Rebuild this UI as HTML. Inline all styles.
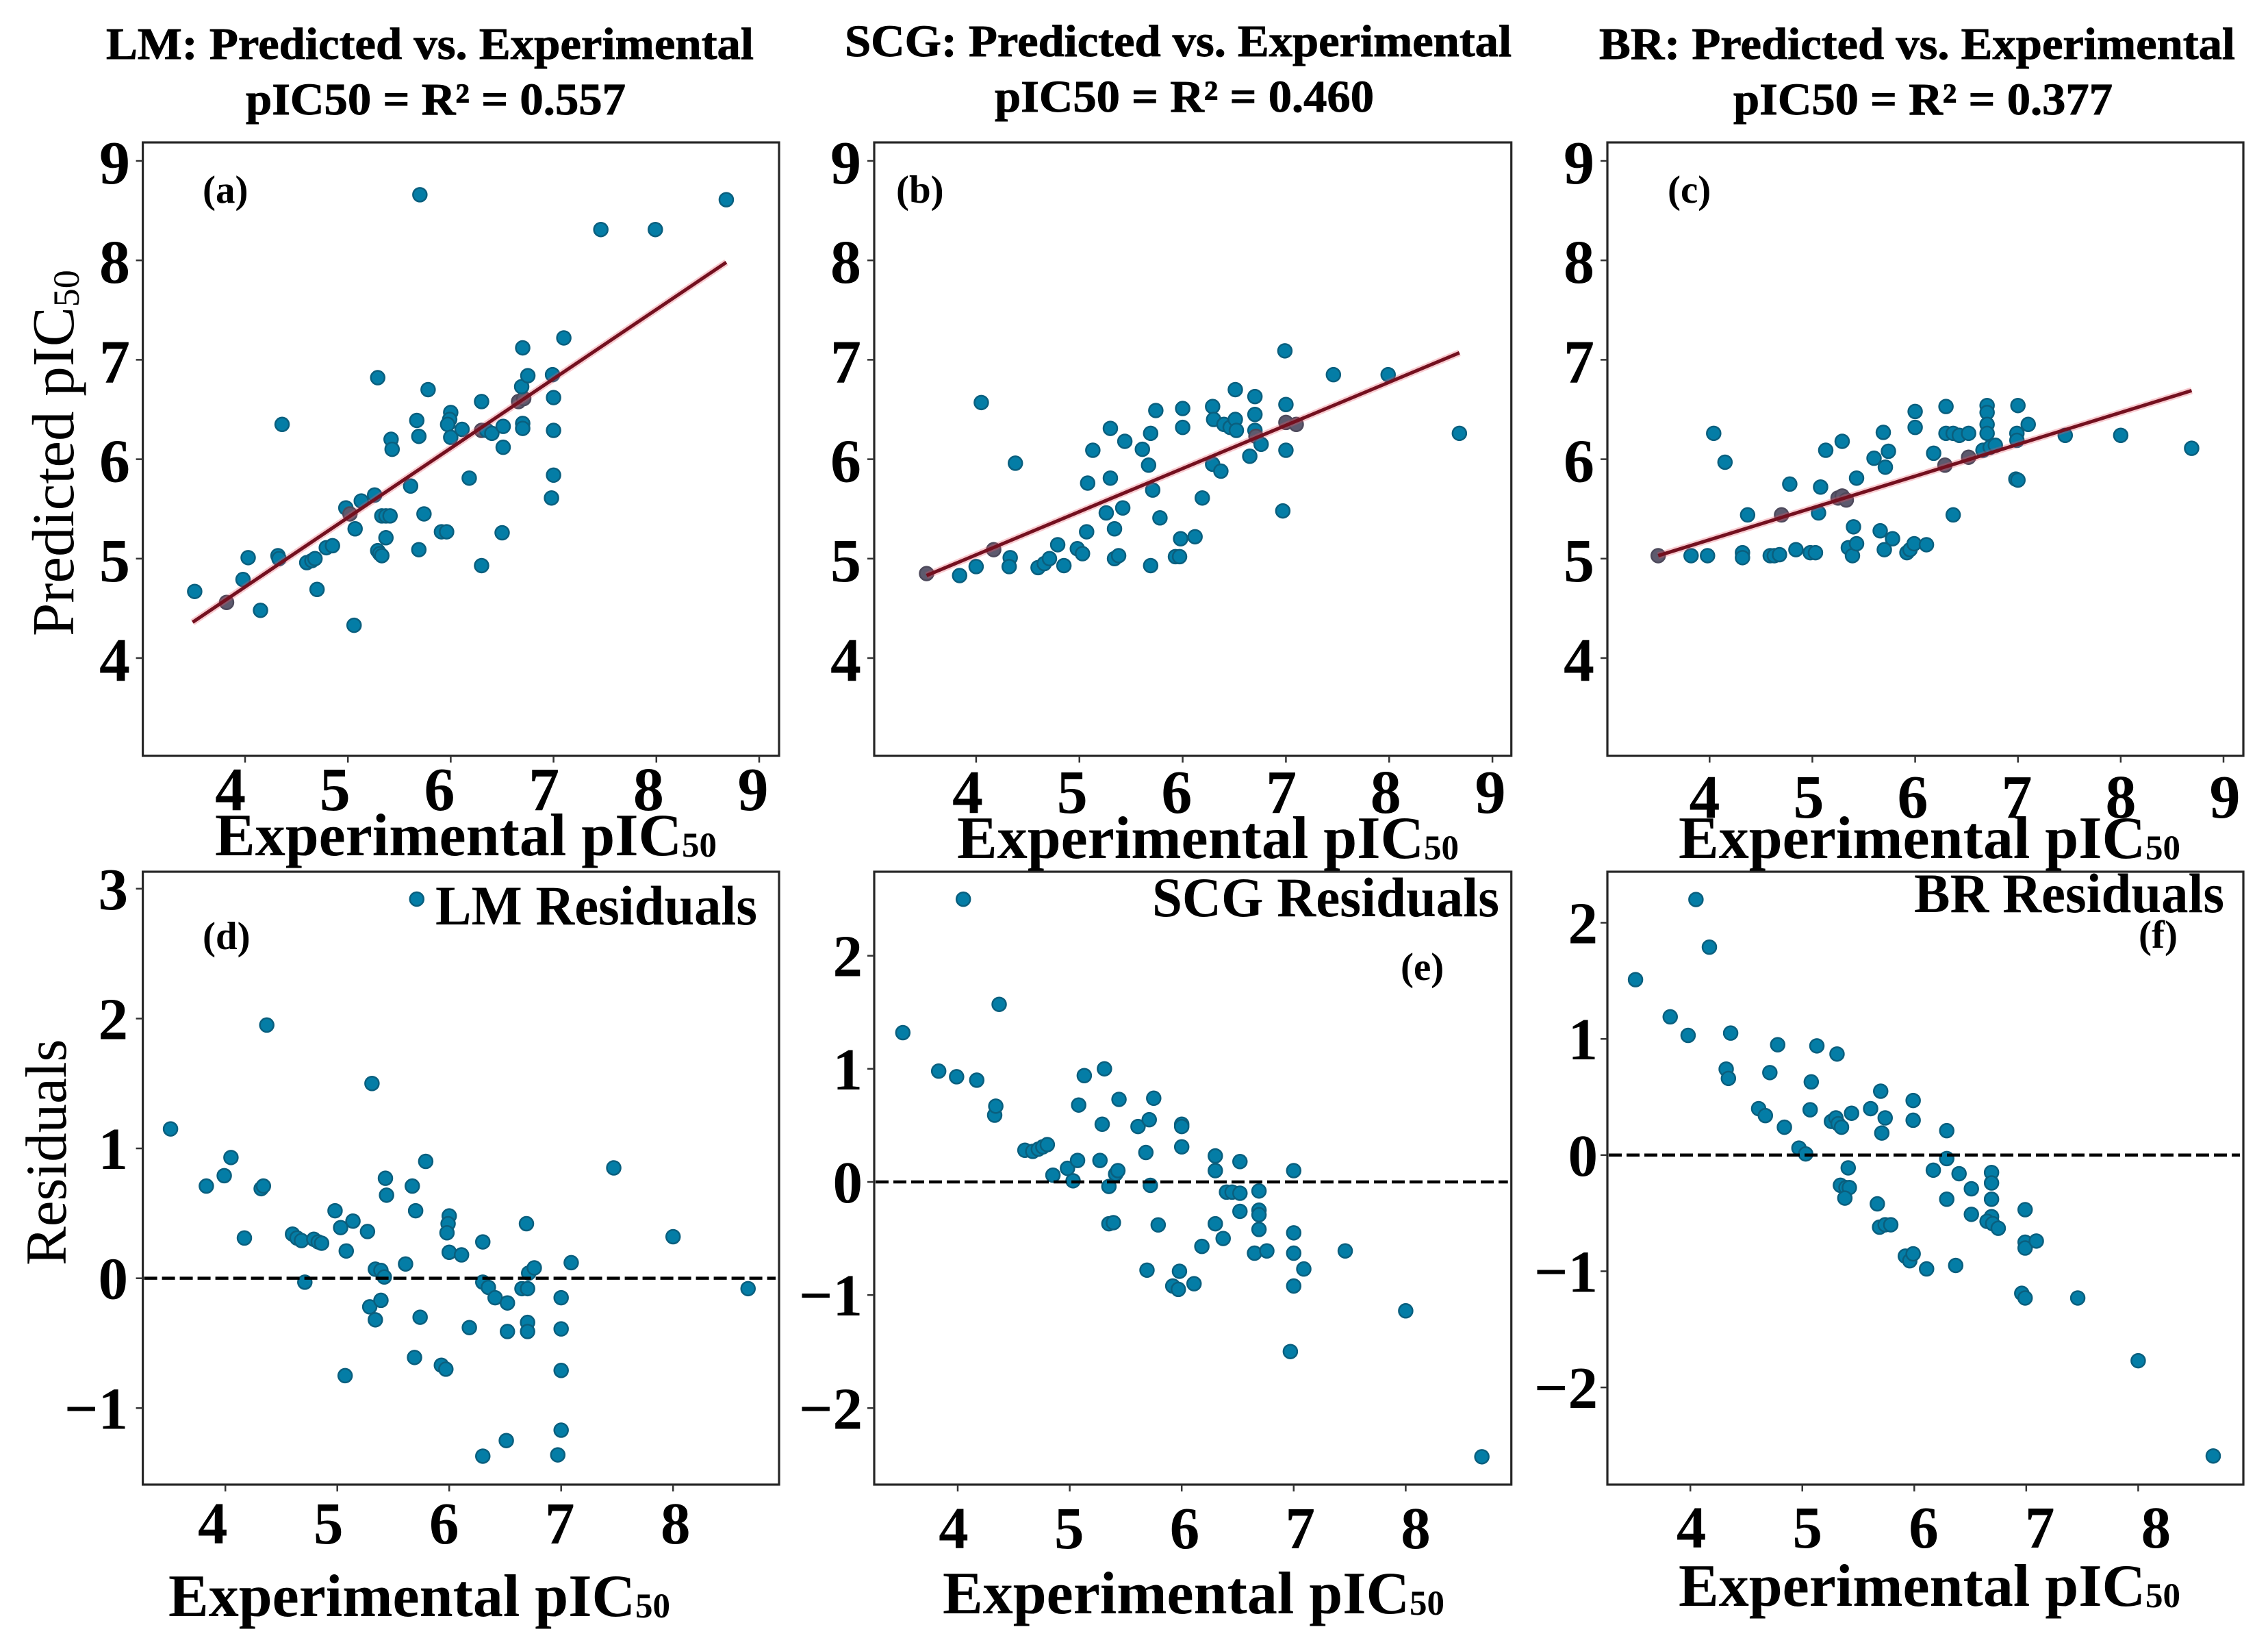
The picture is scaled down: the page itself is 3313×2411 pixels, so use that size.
<!DOCTYPE html>
<html lang="en">
<head>
<meta charset="utf-8">
<title>Predicted vs. Experimental pIC50</title>
<style>
html,body{margin:0;padding:0;background:#fff;}
svg{display:block;}
text{font-family:"Liberation Serif",serif;fill:#000;}
.b{font-weight:bold;}
.h{stroke:#000;stroke-width:0.9px;}
</style>
</head>
<body>
<svg id="figure" xmlns="http://www.w3.org/2000/svg" width="3313" height="2411" viewBox="0 0 3313 2411">
<rect x="0" y="0" width="3313" height="2411" fill="#fff"/>

<text class="b h" x="155" y="86" font-size="66" textLength="946" lengthAdjust="spacingAndGlyphs">LM: Predicted vs. Experimental</text>
<text class="b h" x="359" y="167" font-size="66" textLength="555" lengthAdjust="spacingAndGlyphs">pIC50 = R² = 0.557</text>
<text class="b h" x="1234" y="82" font-size="66" textLength="974" lengthAdjust="spacingAndGlyphs">SCG: Predicted vs. Experimental</text>
<text class="b h" x="1453" y="163" font-size="66" textLength="554" lengthAdjust="spacingAndGlyphs">pIC50 = R² = 0.460</text>
<text class="b h" x="2336" y="86" font-size="66" textLength="929" lengthAdjust="spacingAndGlyphs">BR: Predicted vs. Experimental</text>
<text class="b h" x="2532" y="167" font-size="66" textLength="554" lengthAdjust="spacingAndGlyphs">pIC50 = R² = 0.377</text>

<g id="plots"></g>

<text transform="translate(107 929) rotate(-90)" font-size="87">Predicted pIC<tspan font-size="54" dy="8">50</tspan></text>
<text transform="translate(96 1848) rotate(-90)" font-size="85">Residuals</text>

<text class="b" x="314" y="1249" font-size="88">Experimental pIC<tspan font-size="51" dy="2">50</tspan></text>
<text class="b" x="1398" y="1253" font-size="88">Experimental pIC<tspan font-size="51" dy="2">50</tspan></text>
<text class="b" x="2452" y="1253" font-size="88">Experimental pIC<tspan font-size="51" dy="2">50</tspan></text>
<text class="b" x="246" y="2360" font-size="88">Experimental pIC<tspan font-size="51" dy="2">50</tspan></text>
<text class="b" x="1377" y="2356" font-size="88">Experimental pIC<tspan font-size="51" dy="2">50</tspan></text>
<text class="b" x="2452" y="2345" font-size="88">Experimental pIC<tspan font-size="51" dy="2">50</tspan></text>

<text class="b" x="296" y="296" font-size="57">(a)</text>
<text class="b" x="1309" y="296" font-size="57">(b)</text>
<text class="b" x="2436" y="296" font-size="57">(c)</text>
<text class="b" x="296" y="1386" font-size="57">(d)</text>
<text class="b" x="2046" y="1431" font-size="57">(e)</text>
<text class="b" x="3124" y="1384" font-size="57">(f)</text>

<text class="b" x="636" y="1350" font-size="82" textLength="470" lengthAdjust="spacingAndGlyphs">LM Residuals</text>
<text class="b" x="1683" y="1338" font-size="82" textLength="507" lengthAdjust="spacingAndGlyphs">SCG Residuals</text>
<text class="b" x="2796" y="1332" font-size="82" textLength="453" lengthAdjust="spacingAndGlyphs">BR Residuals</text>
</svg>

<script>
// ---- chart data ----
const predXTicks = [4, 5, 6, 7, 8, 9];
const predYTicks = [4, 5, 6, 7, 8, 9];
const resXTicks = [4, 5, 6, 7, 8];
const lmResYTicks = [-1, 0, 1, 2, 3];
const scgResYTicks = [-2, -1, 0, 1, 2];
const brResYTicks = [-2, -1, 0, 1, 2];

const lmPredX = [3.51,3.82,3.98,4.03,4.15,4.32,4.33,4.36,4.6,4.65,4.68,4.7,4.79,4.85,4.98,5.02,5.06,5.07,5.13,5.26,5.29,5.29,5.31,5.33,5.37,5.33,5.37,5.41,5.42,5.43,5.61,5.67,5.69,5.69,5.7,5.74,5.78,5.91,5.96,6,5.99,5.97,6,6.11,6.18,6.3,6.3,6.35,6.4,6.3,6.51,6.51,6.5,6.66,6.71,6.69,6.75,6.7,6.7,6.7,6.99,7,7,7,6.98,7.1,7.46,7.99,8.68];
const lmPredY = [4.67,4.56,4.79,5.01,4.48,5.03,5,6.35,4.96,4.98,5,4.69,5.11,5.13,5.51,5.45,4.33,5.3,5.58,5.64,6.82,5.08,5.05,5.03,5.21,5.43,5.43,5.43,6.2,6.1,5.73,6.39,6.23,5.09,8.66,5.45,6.7,5.27,5.27,6.47,6.4,6.35,6.22,6.3,5.81,6.58,6.29,6.29,6.26,4.93,6.33,6.12,5.26,6.58,6.61,6.73,6.84,7.12,6.36,6.31,6.85,6.62,6.29,5.84,5.61,7.22,8.31,8.31,8.61];
const lmFitX = [3.49, 8.68];
const lmFitY = [4.36, 7.98];

const scgPredX = [3.52,3.84,4,4.05,4.17,4.33,4.32,4.38,4.6,4.66,4.71,4.79,4.85,4.98,5.03,5.07,5.08,5.13,5.26,5.3,5.3,5.34,5.34,5.38,5.42,5.44,5.61,5.67,5.69,5.69,5.71,5.74,5.78,5.93,5.97,5.98,6,6,6.12,6.19,6.29,6.3,6.29,6.37,6.4,6.46,6.51,6.51,6.52,6.65,6.7,6.7,6.7,6.71,6.76,6.99,7,7,7,6.97,7.1,7.46,7.99,8.68];
const scgPredY = [4.85,4.83,4.92,6.57,5.09,5.01,4.92,5.96,4.91,4.95,5,5.14,4.93,5.1,5.05,5.27,5.76,6.09,5.46,6.31,5.81,5.3,5,5.03,5.51,6.18,6.1,5.94,6.26,4.93,5.69,6.49,5.41,5.02,5.02,5.2,6.51,6.32,5.22,5.61,6.53,6.4,5.95,5.88,6.35,6.32,6.7,6.4,6.29,6.03,6.63,6.45,6.29,6.23,6.15,7.09,6.55,6.37,6.09,5.48,6.35,6.85,6.85,6.26];
const scgFitX = [3.52, 8.68];
const scgFitY = [4.83, 7.07];

const brPredX = [3.5,3.82,3.98,4.04,4.15,4.32,4.32,4.37,4.59,4.63,4.68,4.7,4.78,4.84,4.98,5.03,5.06,5.08,5.13,5.29,5.25,5.29,5.33,5.35,5.39,5.43,5.4,5.43,5.6,5.66,5.69,5.7,5.71,5.74,5.78,5.92,5.95,5.99,6,6,6.11,6.18,6.3,6.3,6.37,6.43,6.29,6.37,6.52,6.52,6.7,6.7,6.7,6.7,6.66,6.73,6.78,7,6.99,6.99,6.98,7,7.1,7.46,8,8.69];
const brPredY = [5.03,5.03,5.03,6.26,5.97,5.06,5.01,5.44,5.03,5.03,5.04,5.44,5.75,5.09,5.06,5.06,5.46,5.72,6.09,6.18,5.61,5.63,5.59,5.11,5.03,5.15,5.32,5.81,6.01,5.28,6.27,5.09,5.92,6.08,5.2,5.06,5.09,5.15,6.48,6.32,5.14,6.06,6.53,6.26,6.26,6.24,5.94,5.44,6.26,6.02,6.54,6.47,6.35,6.26,6.09,6.12,6.14,6.54,6.26,6.19,5.8,5.79,6.35,6.24,6.24,6.11];
const brFitX = [3.5, 8.69];
const brFitY = [5.03, 6.69];

const lmResX = [3.51,3.83,3.99,4.05,4.17,4.32,4.34,4.37,4.6,4.64,4.68,4.71,4.79,4.83,4.86,4.98,5.03,5.08,5.07,5.14,5.27,5.31,5.29,5.39,5.34,5.34,5.39,5.42,5.43,5.44,5.61,5.67,5.7,5.69,5.71,5.74,5.79,5.93,5.97,6,5.99,5.98,6,6.11,6.18,6.3,6.3,6.35,6.41,6.3,6.51,6.52,6.52,6.65,6.7,6.69,6.7,6.7,6.71,6.76,7,7,7,7,6.97,7.09,7.47,8,8.67];
const lmResY = [1.15,0.71,0.79,0.93,0.31,0.69,0.71,1.95,0.34,0.31,0.29,-0.03,0.3,0.28,0.27,0.52,0.39,0.21,-0.75,0.44,0.36,1.5,-0.22,-0.17,-0.32,0.07,0.06,0.01,0.77,0.64,0.11,0.71,0.52,-0.61,2.92,-0.3,0.9,-0.67,-0.7,0.48,0.42,0.35,0.2,0.18,-0.38,0.28,-0.03,-0.07,-0.15,-1.37,-1.25,-0.19,-0.41,-0.08,-0.08,0.42,-0.34,-0.41,0.04,0.08,-0.15,-0.39,-0.71,-1.17,-1.36,0.12,0.85,0.32,-0.08];

const scgResX = [3.51,3.83,3.99,4.05,4.17,4.33,4.34,4.37,4.6,4.67,4.72,4.76,4.8,4.85,4.98,5.03,5.07,5.08,5.13,5.27,5.29,5.31,5.35,5.35,5.39,5.41,5.43,5.44,5.61,5.68,5.71,5.69,5.72,5.75,5.79,5.92,5.97,5.98,6,6,6,6.11,6.18,6.3,6.3,6.3,6.37,6.4,6.45,6.52,6.52,6.52,6.69,6.69,6.69,6.69,6.65,6.76,7,7,7,7,6.97,7.09,7.46,8,8.68];
const scgResY = [1.32,0.98,0.93,2.5,0.9,0.59,0.67,1.57,0.28,0.27,0.29,0.31,0.33,0.06,0.12,0.01,0.19,0.68,0.94,0.19,0.51,1,-0.04,-0.37,-0.36,0.07,0.1,0.73,0.49,0.26,0.55,-0.78,-0.03,0.74,-0.38,-0.92,-0.95,-0.79,0.51,0.49,0.31,-0.9,-0.57,0.23,0.1,-0.37,-0.5,-0.09,-0.09,-0.1,0.18,-0.26,-0.08,-0.25,-0.29,-0.42,-0.63,-0.61,0.1,-0.45,-0.63,-0.92,-1.5,-0.77,-0.61,-1.14,-2.43];

const brResX = [3.51,3.82,3.98,4.05,4.17,4.32,4.34,4.36,4.61,4.67,4.71,4.78,4.84,4.97,5.03,5.07,5.08,5.13,5.31,5.26,5.3,5.32,5.35,5.41,5.34,5.39,5.42,5.38,5.44,5.61,5.67,5.7,5.74,5.71,5.69,5.74,5.79,5.92,5.96,5.99,5.99,5.99,6.11,6.17,6.29,6.29,6.29,6.37,6.4,6.51,6.51,6.69,6.69,6.69,6.69,6.65,6.7,6.75,6.99,6.96,6.99,6.99,6.99,7.09,7.46,8,8.67];
const brResY = [1.51,1.19,1.03,2.2,1.79,0.74,0.66,1.05,0.4,0.34,0.71,0.95,0.24,0.06,0.01,0.39,0.63,0.94,0.87,0.29,0.32,0.27,0.24,-0.11,-0.26,-0.28,-0.28,-0.37,0.36,0.4,-0.42,0.55,0.32,0.19,-0.62,-0.6,-0.6,-0.87,-0.91,-0.85,0.47,0.3,-0.98,-0.13,0.21,-0.03,-0.38,-0.95,-0.16,-0.29,-0.51,-0.15,-0.24,-0.38,-0.53,-0.57,-0.59,-0.63,-0.47,-1.19,-1.23,-0.75,-0.8,-0.74,-1.23,-1.77,-2.59];

// ---- axis helpers ----
function linearScale(v0, p0, v1, p1) {
  return function (v) { return p0 + (v - v0) * (p1 - p0) / (v1 - v0); };
}
const NS = 'http://www.w3.org/2000/svg';
function make(tag, parent, attrs) {
  const el = document.createElementNS(NS, tag);
  for (const k in attrs) el.setAttribute(k, attrs[k]);
  parent.appendChild(el);
  return el;
}

const panels = [
  { id:'a', left:208.6, right:1138, top:208, bottom:1103.6,
    x:linearScale(4,358,9,1109), y:linearScale(9,235,4,961),
    xLabel:linearScale(4,336.6,9,1100), xBase:1183, yRight:190, yOff:33, fs:90,
    xTicks:predXTicks, yTicks:predYTicks, px:lmPredX, py:lmPredY, fx:lmFitX, fy:lmFitY },
  { id:'b', left:1277, right:2207.7, top:208, bottom:1103.6,
    x:linearScale(4,1425.9,9,2180.1), y:linearScale(9,235,4,961),
    xLabel:linearScale(4,1413.5,9,2177), xBase:1187, yRight:1258, yOff:33, fs:90,
    xTicks:predXTicks, yTicks:predYTicks, px:scgPredX, py:scgPredY, fx:scgFitX, fy:scgFitY },
  { id:'c', left:2348, right:3277, top:208, bottom:1103.6,
    x:linearScale(4,2497.3,9,3248), y:linearScale(9,235,4,961),
    xLabel:linearScale(4,2490,9,3250), xBase:1194, yRight:2329, yOff:33, fs:90,
    xTicks:predXTicks, yTicks:predYTicks, px:brPredX, py:brPredY, fx:brFitX, fy:brFitY },
  { id:'d', left:208.6, right:1138, top:1273, bottom:2168,
    x:linearScale(4,329.2,8,983.2), y:linearScale(3,1297.8,-1,2056.3),
    xLabel:linearScale(4,310.7,8,986.7), xBase:2254, yRight:187, yOff:30, fs:87,
    xTicks:resXTicks, yTicks:lmResYTicks, px:lmResX, py:lmResY, zero:true },
  { id:'e', left:1277, right:2207.7, top:1273, bottom:2168,
    x:linearScale(4,1399,8,2053.4), y:linearScale(2,1395.7,-2,2056.3),
    xLabel:linearScale(4,1393,8,2068), xBase:2261, yRight:1260, yOff:30, fs:87,
    xTicks:resXTicks, yTicks:scgResYTicks, px:scgResX, py:scgResY, zero:true },
  { id:'f', left:2348, right:3277, top:1273, bottom:2168,
    x:linearScale(4,2469.2,8,3123.4), y:linearScale(2,1347.5,-2,2026.1),
    xLabel:linearScale(4,2470.6,8,3149.4), xBase:2260, yRight:2334, yOff:30, fs:87,
    xTicks:resXTicks, yTicks:brResYTicks, px:brResX, py:brResY, zero:true }
];

const root = document.getElementById('plots');

panels.forEach(function (p) {
  const g = make('g', root, {});
  
  

  // frame
  const frame = make('rect', g, { x:p.left, y:p.top, width:p.right-p.left, height:p.bottom-p.top, fill:'#fff', stroke:'#262626', 'stroke-width':3.2 });
  
  

  // x ticks and labels
  p.xTicks.forEach(function (t) {
    const tick = make('line', g, { x1:p.x(t), x2:p.x(t), y1:p.bottom, y2:p.bottom+10, stroke:'#333', 'stroke-width':2.5 });
    
    
    const lab = make('text', g, { x:p.xLabel(t), y:p.xBase, 'font-size':p.fs, 'font-weight':'bold', 'text-anchor':'middle' });
    lab.textContent = String(t);
    
    
  });

  // y ticks and labels
  p.yTicks.forEach(function (t) {
    const tick = make('line', g, { x1:p.left-10, x2:p.left, y1:p.y(t), y2:p.y(t), stroke:'#333', 'stroke-width':2.5 });
    
    
    const lab = make('text', g, { x:p.yRight, y:p.y(t)+p.yOff, 'font-size':p.fs, 'font-weight':'bold', 'text-anchor':'end' });
    lab.textContent = (t < 0 ? '\u2212' + Math.abs(t) : String(t));
    
    
  });

  // points
  const fit = p.fx ? linearScale(p.fx[0], p.fy[0], p.fx[1], p.fy[1]) : null;
  p.px.forEach(function (xv, i) {
    const yv = p.py[i];
    const onLine = fit && Math.abs(yv - fit(xv)) < 0.035;
    const dot = make('circle', g, { cx:p.x(xv), cy:p.y(yv), r:10, fill:onLine ? '#5d5a6e' : '#047da6', stroke:onLine ? '#4e4a5c' : '#0a5f7e', 'stroke-width':2.5 });
    
    
  });

  // regression line
  if (p.fx) {
    const halo = make('line', g, { x1:p.x(p.fx[0]), y1:p.y(p.fy[0]), x2:p.x(p.fx[1]), y2:p.y(p.fy[1]), stroke:'#e8505f', 'stroke-width':10, 'stroke-opacity':0.3 });
    
    
    const line = make('line', g, { x1:p.x(p.fx[0]), y1:p.y(p.fy[0]), x2:p.x(p.fx[1]), y2:p.y(p.fy[1]), stroke:'#74101f', 'stroke-width':5 });
    
    
  }

  // zero reference
  if (p.zero) {
    const zero = make('line', g, { x1:p.left+2, x2:p.right-5, y1:p.y(0), y2:p.y(0), stroke:'#000', 'stroke-width':4.5, 'stroke-dasharray':'19 7' });
    
    
  }
});
</script>
</body>
</html>
